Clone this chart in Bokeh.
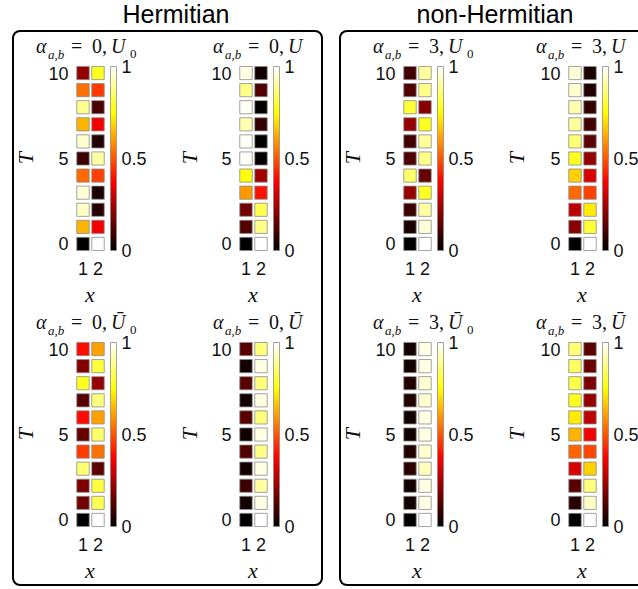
from bokeh.plotting import figure
from bokeh.models import (ColumnDataSource, LinearColorMapper, ColorBar, FixedTicker,
                          Div, Spacer, Row, Column, NumeralTickFormatter)
from bokeh.embed import file_html
from bokeh.resources import INLINE

# ---------------- data ----------------
T = list(range(11))            # time steps 0..10
X_SITES = [1, 2]
Y_TICKS = [0, 5, 10]
CB_TICKS = [0, 0.5, 1]

# occupation at site x=1 and x=2, listed for T = 0..10
h_U0_x1 = [0.00, 0.64, 0.94, 0.96, 0.53, 0.09, 0.95, 0.64, 0.89, 0.54, 0.22]
h_U0_x2 = [1.00, 0.36, 0.06, 0.04, 0.47, 0.91, 0.05, 0.36, 0.11, 0.46, 0.78]

h_U_x1 = [0.00, 0.12, 0.17, 0.60, 0.76, 0.99, 0.99, 0.92, 0.99, 0.88, 0.97]
h_U_x2 = [1.00, 0.88, 0.83, 0.40, 0.24, 0.01, 0.01, 0.08, 0.01, 0.12, 0.03]

nh_U0_x1 = [0.00, 0.04, 0.09, 0.22, 0.85, 0.12, 0.10, 0.22, 0.80, 0.12, 0.10]
nh_U0_x2 = [1.00, 0.96, 0.91, 0.78, 0.15, 0.88, 0.90, 0.78, 0.20, 0.88, 0.90]

nh_U_x1 = [0.00, 0.20, 0.28, 0.53, 0.68, 0.78, 0.86, 0.90, 0.92, 0.95, 0.96]
nh_U_x2 = [1.00, 0.80, 0.72, 0.47, 0.32, 0.22, 0.14, 0.10, 0.08, 0.05, 0.04]

h_Ub0_x1 = [0.00, 0.17, 0.19, 0.86, 0.46, 0.15, 0.39, 0.13, 0.78, 0.19, 0.39]
h_Ub0_x2 = [1.00, 0.83, 0.81, 0.14, 0.54, 0.85, 0.61, 0.87, 0.22, 0.81, 0.61]

h_Ub_x1 = [0.00, 0.03, 0.09, 0.03, 0.12, 0.03, 0.13, 0.03, 0.13, 0.03, 0.13]
h_Ub_x2 = [1.00, 0.97, 0.91, 0.97, 0.88, 0.97, 0.87, 0.97, 0.87, 0.97, 0.87]

nh_Ub0_x1 = [0.00, 0.03, 0.03, 0.07, 0.05, 0.03, 0.03, 0.05, 0.05, 0.03, 0.03]
nh_Ub0_x2 = [1.00, 0.97, 0.97, 0.93, 0.95, 0.97, 0.97, 0.95, 0.95, 0.97, 0.97]

nh_Ub_x1 = [0.00, 0.06, 0.13, 0.32, 0.52, 0.64, 0.72, 0.78, 0.82, 0.84, 0.86]
nh_Ub_x2 = [1.00, 0.94, 0.87, 0.68, 0.48, 0.36, 0.28, 0.22, 0.18, 0.16, 0.14]

# ---------------- style ----------------
def hot_palette(n=256):
    cols = []
    for i in range(n):
        v = i / (n - 1)
        r = min(1.0, v / 0.375)
        g = min(1.0, max(0.0, (v - 0.375) / 0.375))
        b = min(1.0, max(0.0, (v - 0.75) / 0.25))
        cols.append("#%02x%02x%02x" % (round(r * 255), round(g * 255), round(b * 255)))
    return cols

HOT = hot_palette()
SANS = "Liberation Sans"
SERIF = "Liberation Serif"
TXT = "#111111"
TITLE_H = 22
XLAB_H = 24
TLAB_W = 30
FIG_H = 276 - TITLE_H - XLAB_H
TOP_B = 32 - TITLE_H
BOT_B = FIG_H - TOP_B - 188


def title_div(digit, sym, sub0, width, pad):
    pieces = [("α", "italic", 20, 0, 4),
              ("a,b", "italic", 13, 12, 16),
              ("=", "normal", 20, 35, 4),
              (digit + ",", "normal", 20, 56, 4),
              (sym, "italic", 20, 75, 4)]
    if sub0:
        pieces.append(("0", "normal", 13, 94, 15))
    spans = "".join(
        '<span style="position:absolute;left:%dpx;top:%dpx;font-size:%dpx;'
        'line-height:%dpx;font-style:%s;white-space:nowrap">%s</span>'
        % (pad + dx, top, fs, fs, st, txt)
        for txt, st, fs, dx, top in pieces)
    html = ('<div style="position:relative;width:%dpx;height:%dpx;overflow:visible;'
            'font-family:\'Liberation Serif\';color:#111">%s</div>' % (width, TITLE_H, spans))
    return Div(text=html, width=width, height=TITLE_H, margin=0,
               styles={"overflow": "visible", "z-index": "5"})


def tlabel_div():
    top = TOP_B + 94 - 11
    html = ('<div style="position:relative;width:%dpx;height:%dpx">'
            '<span style="position:absolute;left:6px;top:%dpx;font-family:\'Liberation Serif\';'
            'font-style:italic;font-size:22px;line-height:22px;color:#111;'
            'transform:rotate(-90deg);transform-origin:center center">T</span></div>'
            % (TLAB_W, FIG_H, top))
    return Div(text=html, width=TLAB_W, height=FIG_H, margin=0)


def xlabel_div(width, ml):
    html = ('<div style="position:relative;width:%dpx;height:%dpx">'
            '<span style="position:absolute;left:%dpx;top:0px;width:30px;text-align:center;'
            'font-family:\'Liberation Serif\';font-style:italic;font-size:22px;'
            'line-height:22px;color:#111">x</span></div>' % (width, XLAB_H, ml))
    return Div(text=html, width=width, height=XLAB_H, margin=0)


def make_panel(x1, x2, width, ml, digit, sym, sub0, title_dx):
    mapper = LinearColorMapper(palette=HOT, low=0, high=1)
    fw = width - TLAB_W
    fl = ml - TLAB_W
    p = figure(width=fw, height=FIG_H, x_range=(0.5, 2.5), y_range=(-0.5, 10.5),
               min_border_left=fl, min_border_right=fw - fl - 30,
               min_border_top=TOP_B, min_border_bottom=BOT_B,
               output_backend="svg", toolbar_location=None)
    p.outline_line_color = None
    p.border_fill_color = None
    p.grid.visible = False
    src = ColumnDataSource(dict(x=[X_SITES[0]] * len(T) + [X_SITES[1]] * len(T),
                                t=T + T, v=list(x1) + list(x2)))
    p.rect(x="x", y="t", width=0.83, height=0.77, source=src,
           fill_color={"field": "v", "transform": mapper},
           line_color="#8c8c8c", line_width=0.8)

    for ax in (p.xaxis[0], p.yaxis[0]):
        ax.axis_line_color = None
        ax.major_tick_line_color = None
        ax.minor_tick_line_color = None
        ax.major_tick_out = 0
        ax.major_label_text_font = SANS
        ax.major_label_text_font_size = "18px"
        ax.major_label_text_color = TXT
    p.xaxis.ticker = FixedTicker(ticks=X_SITES)
    p.yaxis.ticker = FixedTicker(ticks=Y_TICKS)
    p.xaxis.major_label_standoff = 9
    p.yaxis.major_label_standoff = 7

    cb = ColorBar(color_mapper=mapper, width=6, height=184, location=(35, 2),
                  ticker=FixedTicker(ticks=CB_TICKS),
                  formatter=NumeralTickFormatter(format="0.[0]"),
                  major_label_text_font=SANS, major_label_text_font_size="18px",
                  major_label_text_color=TXT,
                  major_tick_line_color=None, minor_tick_line_color=None,
                  bar_line_color="#8c8c8c", bar_line_width=0.8,
                  border_line_color=None, background_fill_color=None,
                  margin=0, padding=0, label_standoff=5)
    p.add_layout(cb, "center")

    head = title_div(digit, sym, sub0, width, ml + title_dx)
    body = Row(children=[tlabel_div(), p], spacing=0, margin=0)
    foot = xlabel_div(width, ml)
    return Column(children=[head, body, foot], spacing=0, margin=0)


p1 = make_panel(h_U0_x1, h_U0_x2, 164, 61, "0", "U", True, -39)
p2 = make_panel(h_U_x1, h_U_x2, 143, 60, "0", "U", False, -25)
p3 = make_panel(nh_U0_x1, nh_U0_x2, 164, 61, "3", "U", True, -29)
p4 = make_panel(nh_U_x1, nh_U_x2, 133, 62, "3", "U", False, -31)
p5 = make_panel(h_Ub0_x1, h_Ub0_x2, 164, 61, "0", "Ū", True, -39)
p6 = make_panel(h_Ub_x1, h_Ub_x2, 143, 60, "0", "Ū", False, -25)
p7 = make_panel(nh_Ub0_x1, nh_Ub0_x2, 164, 61, "3", "Ū", True, -29)
p8 = make_panel(nh_Ub_x1, nh_Ub_x2, 133, 62, "3", "Ū", False, -31)


def group_title(text, w):
    html = ('<div style="font-family:\'Liberation Sans\';font-size:25px;line-height:25px;'
            'text-align:center;padding-top:2px;color:#000;width:%dpx">%s</div>' % (w, text))
    return Div(text=html, width=w, height=30, margin=0)


titles = Row(children=[group_title("Hermitian", 352), group_title("non-Hermitian", 286)],
             spacing=0, margin=0)

left_box = Column(children=[Row(children=[p1, p2], spacing=0),
                            Row(children=[p5, p6], spacing=0)],
                  spacing=0, margin=0,
                  styles={"border": "2px solid #000", "border-radius": "8px"})
right_box = Column(children=[Row(children=[p3, p4], spacing=0),
                             Row(children=[p7, p8], spacing=0)],
                   spacing=0, margin=0,
                   styles={"border-left": "2px solid #000", "border-top": "2px solid #000",
                           "border-bottom": "2px solid #000",
                           "border-radius": "8px 0 0 8px"})

body = Row(children=[Spacer(width=12, height=10, margin=0), left_box,
                     Spacer(width=16, height=10, margin=0), right_box],
           spacing=0, margin=0)
root = Column(children=[titles, body], spacing=0, margin=0)

open("out.html", "w").write(file_html(root, INLINE))
